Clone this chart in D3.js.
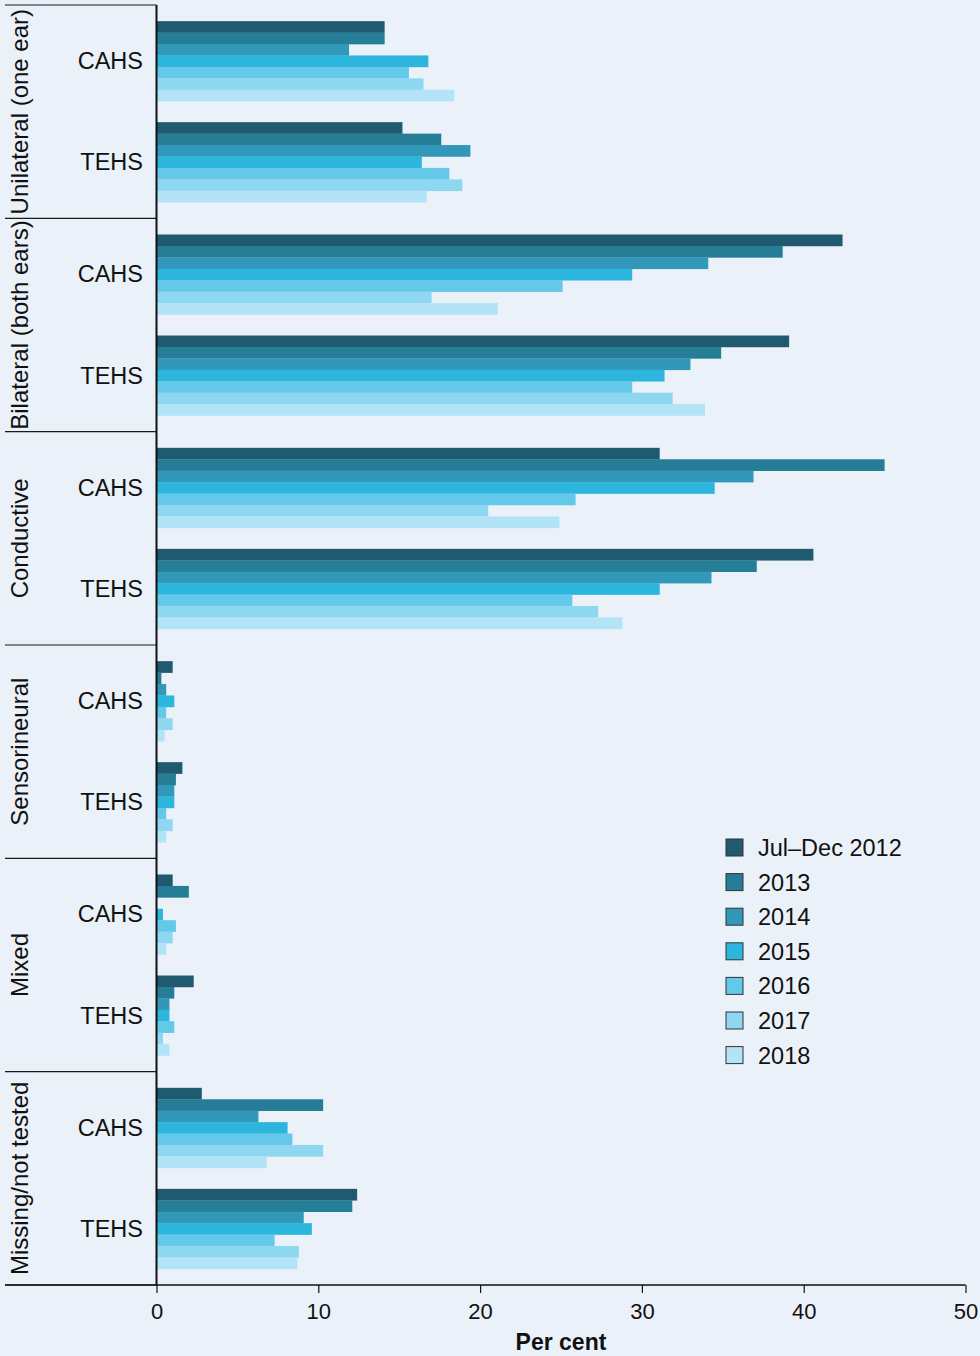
<!DOCTYPE html>
<html>
<head>
<meta charset="utf-8">
<script src="https://cdn.jsdelivr.net/npm/d3@7"></script>
<style>
  html, body { margin: 0; padding: 0; background: #EAF1F9; }
  svg { display: block; font-family: "Liberation Sans", Arial, sans-serif; }
</style>
</head>
<body>
<svg id="chart" width="980" height="1356"></svg>
<script>
// Hearing loss type by service and year
const sections = [
  "Unilateral (one ear)",
  "Bilateral (both ears)",
  "Conductive",
  "Sensorineural",
  "Mixed",
  "Missing/not tested"
];
const services = ["CAHS", "TEHS"];
const years = ["Jul\u2013Dec 2012", "2013", "2014", "2015", "2016", "2017", "2018"];

// Per cent, one value per section × service (CAHS then TEHS within each section)
const v2012 = [14.1, 15.2, 42.4, 39.1, 31.1, 40.6, 1.0, 1.6, 1.0, 2.3, 2.8, 12.4];
const v2013 = [14.1, 17.6, 38.7, 34.9, 45.0, 37.1, 0.3, 1.2, 2.0, 1.1, 10.3, 12.1];
const v2014 = [11.9, 19.4, 34.1, 33.0, 36.9, 34.3, 0.6, 1.1, 0.0, 0.8, 6.3, 9.1];
const v2015 = [16.8, 16.4, 29.4, 31.4, 34.5, 31.1, 1.1, 1.1, 0.4, 0.8, 8.1, 9.6];
const v2016 = [15.6, 18.1, 25.1, 29.4, 25.9, 25.7, 0.6, 0.6, 1.2, 1.1, 8.4, 7.3];
const v2017 = [16.5, 18.9, 17.0, 31.9, 20.5, 27.3, 1.0, 1.0, 1.0, 0.4, 10.3, 8.8];
const v2018 = [18.4, 16.7, 21.1, 33.9, 24.9, 28.8, 0.5, 0.6, 0.6, 0.8, 6.8, 8.7];
const seriesValues = [v2012, v2013, v2014, v2015, v2016, v2017, v2018];

const xTicks = [0, 10, 20, 30, 40, 50];
const colors = ["#1F5A70", "#257D96", "#3298B9", "#2CB5DD", "#64C8E9", "#8ED7F1", "#B3E3F7"];

// Flatten into rows for drawing
const rows = [];
sections.forEach((sec, si) => {
  services.forEach((svc, vi) => {
    years.forEach((yr, yi) => {
      rows.push({ section: sec, service: svc, year: yr, value: seriesValues[yi][si * 2 + vi] });
    });
  });
});

const svg = d3.select("#chart");
const plotLeft = 156.5, plotRight = 965.5, plotTop = 5, plotBottom = 1285;
const labelLeft = 5;

const x = d3.scaleLinear().domain([0, 50]).range([plotLeft, plotRight]);
const ySection = d3.scaleBand().domain(sections).range([plotTop, plotBottom]).padding(0);
const yService = d3.scaleBand().domain(services)
  .range([0, ySection.bandwidth()])
  .paddingInner(0.208).paddingOuter(0.16);
const yYear = d3.scaleBand().domain(years).range([0, yService.bandwidth()]).padding(0);
const color = d3.scaleOrdinal().domain(years).range(colors);

// Bars
svg.append("g").selectAll("rect")
  .data(rows)
  .join("rect")
  .attr("x", x(0))
  .attr("y", d => ySection(d.section) + yService(d.service) + yYear(d.year))
  .attr("width", d => x(d.value) - x(0))
  .attr("height", yYear.bandwidth() + 0.3)
  .attr("fill", d => color(d.year));

// Section separators on the category side
svg.append("g").selectAll("line")
  .data(sections.map(s => ySection(s)).concat([plotBottom]))
  .join("line")
  .attr("x1", labelLeft).attr("x2", plotLeft)
  .attr("y1", d => d).attr("y2", d => d)
  .attr("stroke", "#1a1a1a").attr("stroke-width", 1.2);

// Section labels (rotated)
svg.append("g").selectAll("text")
  .data(sections)
  .join("text")
  .attr("transform", d => `translate(19,${ySection(d) + ySection.bandwidth() / 2}) rotate(-90)`)
  .attr("text-anchor", "middle")
  .attr("dominant-baseline", "central")
  .attr("font-size", 24)
  .attr("fill", "#111")
  .text(d => d);

// Service labels
const svcLabels = [];
sections.forEach(s => services.forEach(v => svcLabels.push({ s, v })));
svg.append("g").selectAll("text")
  .data(svcLabels)
  .join("text")
  .attr("x", 143)
  .attr("y", d => ySection(d.s) + yService(d.v) + yService.bandwidth() / 2)
  .attr("text-anchor", "end")
  .attr("dominant-baseline", "central")
  .attr("font-size", 23.5)
  .attr("fill", "#111")
  .text(d => d.v);

// Vertical category axis line
svg.append("line")
  .attr("x1", plotLeft).attr("x2", plotLeft)
  .attr("y1", plotTop).attr("y2", plotBottom)
  .attr("stroke", "#111").attr("stroke-width", 2);

// Value axis
const xAxis = d3.axisBottom(x).tickValues(xTicks).tickSize(8).tickPadding(10).tickFormat(d3.format("d"));
const gx = svg.append("g").attr("transform", `translate(0,${plotBottom})`).call(xAxis);
gx.select(".domain").remove();
gx.selectAll(".tick line").attr("stroke", "#111").attr("stroke-width", 1.2);
gx.selectAll(".tick text").attr("font-size", 22).attr("fill", "#111")
  .attr("font-family", "'Liberation Sans', Arial, sans-serif");
svg.append("line")
  .attr("x1", labelLeft).attr("x2", plotRight)
  .attr("y1", plotBottom).attr("y2", plotBottom)
  .attr("stroke", "#111").attr("stroke-width", 1.5);

svg.append("text")
  .attr("x", (plotLeft + plotRight) / 2)
  .attr("y", 1350)
  .attr("text-anchor", "middle")
  .attr("font-size", 23)
  .attr("font-weight", "bold")
  .attr("fill", "#111")
  .text("Per cent");

// Legend
const legend = svg.append("g").attr("transform", "translate(726,839)");
const leg = legend.selectAll("g")
  .data(years)
  .join("g")
  .attr("transform", (d, i) => `translate(0,${i * 34.6})`);
leg.append("rect")
  .attr("width", 17).attr("height", 17)
  .attr("fill", d => color(d))
  .attr("stroke", "#333").attr("stroke-width", 1);
leg.append("text")
  .attr("x", 32).attr("y", 9)
  .attr("dominant-baseline", "central")
  .attr("font-size", 23.5)
  .attr("fill", "#111")
  .text(d => d);
</script>
</body>
</html>
